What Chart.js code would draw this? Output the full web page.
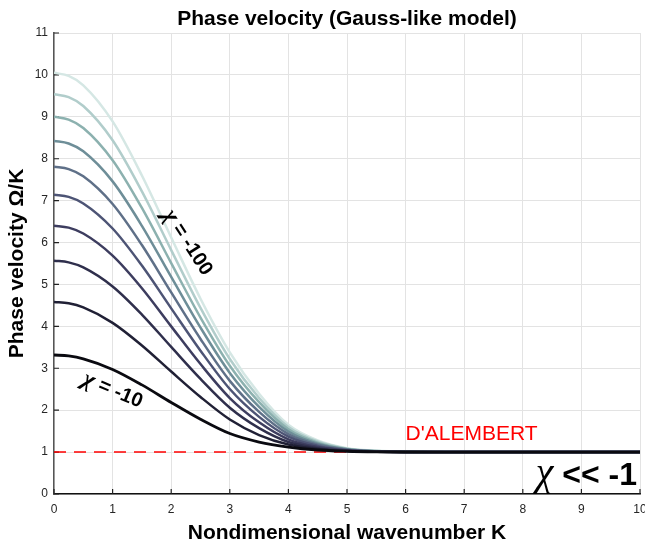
<!DOCTYPE html>
<html><head><meta charset="utf-8">
<script src="https://cdn.jsdelivr.net/npm/chart.js@4"></script>
<style>html,body{margin:0;padding:0;background:#fff}</style>
</head><body>
<canvas id="c" width="645" height="546"></canvas>
<script>
// ---- data ----
const K = [0,0.25,0.5,1,1.5,2,2.5,3,3.5,4,4.5,5,5.5,6,7,8,9,10];
const chiLabels = ['χ = -10','χ = -20','χ = -30','χ = -40','χ = -50','χ = -60','χ = -70','χ = -80','χ = -90','χ = -100'];
const v10  = [3.317,3.294,3.226,2.973,2.604,2.184,1.783,1.442,1.240,1.120,1.050,1.020,1.006,1.002,1,1,1,1];
const v20  = [4.583,4.550,4.452,4.084,3.544,2.922,2.315,1.778,1.407,1.180,1.075,1.025,1.008,1.002,1,1,1,1];
const v30  = [5.568,5.527,5.406,4.952,4.282,3.509,2.746,2.059,1.572,1.241,1.093,1.030,1.009,1.002,1,1,1,1];
const v40  = [6.403,6.356,6.216,5.689,4.911,4.000,3.100,2.290,1.710,1.305,1.120,1.038,1.012,1.003,1,1,1,1];
const v50  = [7.141,7.089,6.932,6.335,5.450,4.430,3.420,2.505,1.840,1.370,1.148,1.048,1.015,1.004,1,1,1,1];
const v60  = [7.810,7.752,7.580,6.920,5.940,4.810,3.700,2.700,1.960,1.430,1.175,1.057,1.018,1.004,1,1,1,1];
const v70  = [8.426,8.364,8.177,7.460,6.400,5.180,3.970,2.890,2.080,1.490,1.200,1.066,1.021,1.005,1,1,1,1];
const v80  = [9.000,8.933,8.734,7.965,6.825,5.510,4.210,3.060,2.190,1.545,1.227,1.075,1.024,1.006,1,1,1,1];
const v90  = [9.539,9.468,9.257,8.440,7.220,5.820,4.440,3.220,2.290,1.600,1.252,1.083,1.027,1.007,1,1,1,1];
const v100 = [10.05,9.975,9.752,8.890,7.600,6.120,4.660,3.380,2.390,1.650,1.276,1.092,1.030,1.007,1,1,1,1];
const dAlembertK = [0,10];
const dAlembertV = [1,1];
const curveValues = [v10,v20,v30,v40,v50,v60,v70,v80,v90,v100];
const curveColors = ['#0a0a10','#202035','#2f2f4c','#3d3d5f','#4d5475','#5f7088','#6e8e98','#8cb1af','#b1cdcb','#d5e7e4'];

const SANS = "'Liberation Sans', Arial, Helvetica, sans-serif";
const SERIF = "'Liberation Serif', 'Times New Roman', serif";

const datasets = curveValues.map((vals,i)=>({
  label: chiLabels[i],
  data: K.map((k,j)=>({x:k,y:vals[j]})),
  borderColor: curveColors[i],
  borderWidth: i===0 ? 2.8 : 2.5,
  pointRadius: 0,
  fill: false,
  cubicInterpolationMode: 'monotone'
}));
datasets.push({
  label: "D'Alembert",
  data: dAlembertK.map((k,j)=>({x:k,y:dAlembertV[j]})),
  borderColor: '#ff0000',
  borderWidth: 1.5,
  borderDash: [12,8],
  pointRadius: 0,
  fill: false
});

function drawChi(ctx, cx, cy, rot, rest, chiSize, restSize){
  ctx.save();
  ctx.translate(cx, cy);
  ctx.rotate(rot*Math.PI/180);
  ctx.textBaseline = 'middle';
  ctx.fillStyle = '#000';
  ctx.font = 'italic bold ' + chiSize + 'px ' + SERIF;
  const wc = ctx.measureText('χ').width;
  ctx.font = 'bold ' + restSize + 'px ' + SANS;
  const gap = ctx.measureText(' ').width;
  const wr = ctx.measureText(rest).width;
  const start = -(wc+gap+wr)/2;
  ctx.font = 'italic bold ' + chiSize + 'px ' + SERIF;
  ctx.textAlign = 'left';
  ctx.fillText('χ', start, 0);
  ctx.font = 'bold ' + restSize + 'px ' + SANS;
  ctx.fillText(rest, start+wc+gap, 0);
  ctx.restore();
}

const annot = {
  id: 'annot',
  beforeDatasetsDraw(chart){
    const {ctx, scales:{x,y}} = chart;
    ctx.save();
    ctx.strokeStyle = '#222';
    ctx.lineWidth = 1.2;
    ctx.beginPath();
    x.ticks.forEach((t,i)=>{
      const px = x.getPixelForTick(i);
      ctx.moveTo(px, y.bottom); ctx.lineTo(px, y.bottom-5);
    });
    y.ticks.forEach((t,i)=>{
      const py = y.getPixelForTick(i);
      ctx.moveTo(x.left, py); ctx.lineTo(x.left+5, py);
    });
    ctx.stroke();
    ctx.restore();
  },
  afterDatasetsDraw(chart){
    const {ctx, scales:{x,y}} = chart;
    drawChi(ctx, x.getPixelForValue(2.28), y.getPixelForValue(6.0), 57, '= -100', 24, 20);
    drawChi(ctx, x.getPixelForValue(1.0), y.getPixelForValue(2.47), 23, '= -10', 24, 20);
    ctx.save();
    ctx.fillStyle = '#ff0000';
    ctx.font = '21px ' + SANS;
    ctx.textAlign = 'left';
    ctx.textBaseline = 'alphabetic';
    ctx.fillText("D'ALEMBERT", x.getPixelForValue(6.0), y.getPixelForValue(1.29));
    // chi << -1
    ctx.fillStyle = '#000';
    const right = x.getPixelForValue(9.95), base = y.getPixelForValue(0.21);
    ctx.font = 'bold 32px ' + SANS;
    const wr = ctx.measureText(' << -1').width;
    ctx.textAlign = 'right';
    ctx.fillText(' << -1', right, base);
    ctx.font = 'italic 40px ' + SERIF;
    ctx.fillText('χ', right - wr, base);
    ctx.restore();
  }
};

new Chart(document.getElementById('c'), {
  type: 'line',
  data: { datasets },
  plugins: [annot],
  options: {
    responsive: false,
    animation: false,
    layout: { padding: { left: 0, right: 5, top: 0, bottom: 0 } },
    plugins: {
      legend: { display: false },
      tooltip: { enabled: false },
      title: {
        display: true,
        fullSize: false,
        text: 'Phase velocity (Gauss-like model)',
        color: '#000',
        font: { family: SANS, size: 21, weight: 'bold' },
        padding: { top: 7, bottom: 0.8 }
      }
    },
    scales: {
      x: {
        type: 'linear', min: 0, max: 10,
        ticks: { stepSize: 1, color: '#262626', font: { family: SANS, size: 12 }, padding: 8, maxRotation: 0 },
        grid: { color: '#e3e3e3', lineWidth: 1, drawTicks: false },
        border: { color: '#111', width: 1.5 },
        title: { display: true, text: 'Nondimensional wavenumber K', color: '#000',
                 font: { family: SANS, size: 21, weight: 'bold' }, padding: { top: 2, bottom: 0 } },
        afterFit(s){ s.height = 52; s.paddingLeft = 0; s.paddingRight = 0; }
      },
      y: {
        type: 'linear', min: 0, max: 11,
        ticks: { stepSize: 1, color: '#262626', font: { family: SANS, size: 12 }, padding: 6 },
        grid: { color: '#e3e3e3', lineWidth: 1, drawTicks: false },
        border: { color: '#555', width: 1.5 },
        title: { display: true, text: 'Phase velocity Ω/K', color: '#000',
                 font: { family: SANS, size: 21, weight: 'bold' }, padding: { top: 5, bottom: 0 } },
        afterFit(s){ s.width = 54; s.paddingTop = 0; s.paddingBottom = 0; }
      }
    }
  }
});
</script>
</body></html>
